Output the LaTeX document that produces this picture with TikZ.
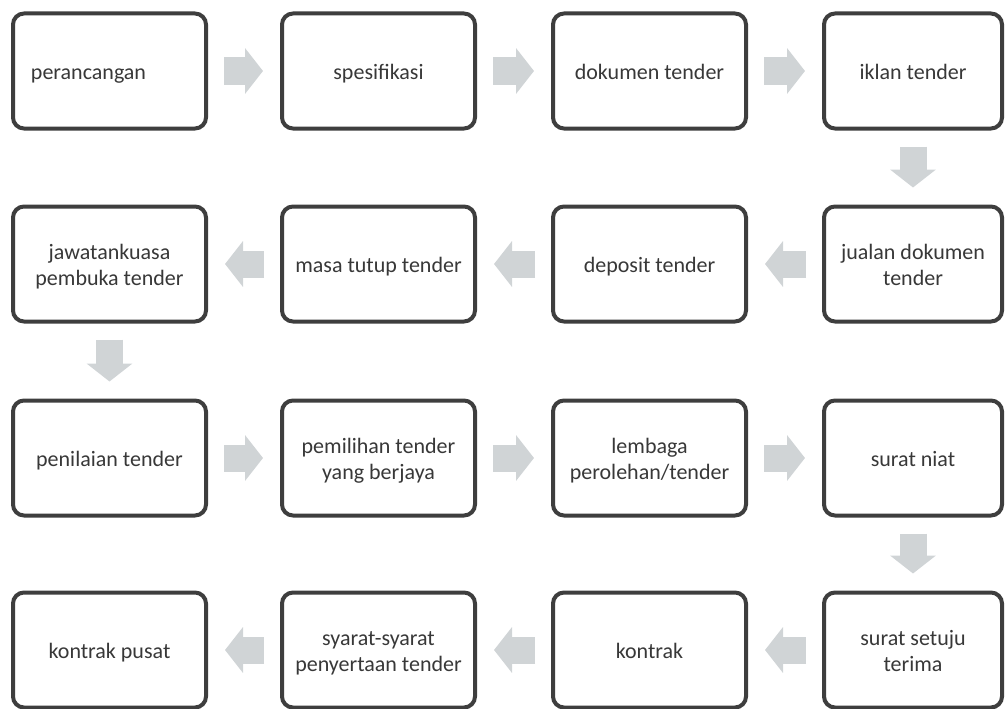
\documentclass[tikz,border=0pt]{standalone}
\usepackage{fontspec}
\setmainfont{Carlito}
\usepackage{tikz}
\usetikzlibrary{positioning,arrows.meta}
\definecolor{boxgray}{HTML}{3E3E3E}
\definecolor{textgray}{HTML}{383838}
\definecolor{arrowgray}{HTML}{D0D4D6}

\begin{document}
\begin{tikzpicture}[
  x=1pt,y=-1pt,
  every node/.style={inner sep=2pt},
  stage/.style={draw=boxgray,line width=4pt,rounded corners=11pt,fill=white,
    minimum width=193pt,minimum height=115pt,align=center,text=textgray,
    font=\fontsize{22}{26}\selectfont,text height=16pt,text depth=0pt},
  twostage/.style={stage,text height=42pt},
  laststage/.style={minimum width=178pt},
  flow/.style={draw=arrowgray,line width=27pt,shorten <=16pt,shorten >=17pt,
    -{Triangle[length=18pt,width=45pt]}}
]
\useasboundingbox (0,0) rectangle (1006,709);

% Row one
\node[stage]           (perancangan) at (109.5,71) {perancangan\hspace*{42pt}};
\node[stage]           (spesifikasi) at (378.5,71) {spesifikasi};
\node[stage]           (dokumen)     at (649.5,71) {dokumen tender};
\node[stage,laststage] (iklan)       at (913,71)   {iklan tender};

% Row two
\node[twostage]           (jawatan) at (109.5,264) {jawatankuasa\\pembuka tender};
\node[stage]              (tutup)   at (378.5,264) {masa tutup tender};
\node[stage]              (deposit) at (649.5,264) {deposit tender};
\node[twostage,laststage] (jualan)  at (913,264)   {jualan dokumen\\tender};

% Row three
\node[stage]           (penilaian) at (109.5,458) {penilaian tender};
\node[twostage]        (pemilihan) at (378.5,458) {pemilihan tender\\yang berjaya};
\node[twostage]        (lembaga)   at (649.5,458) {lembaga\\perolehan/tender};
\node[stage,laststage] (niat)      at (913,458)   {surat niat};

% Row four
\node[stage]              (pusat)   at (109.5,650) {kontrak pusat};
\node[twostage]           (syarat)  at (378.5,650) {syarat-syarat\\penyertaan tender};
\node[stage]              (kontrak) at (649.5,650) {kontrak};
\node[twostage,laststage] (setuju)  at (913,650)   {surat setuju\\terima};

% Flow arrows
\draw[flow] (perancangan) -- (spesifikasi);
\draw[flow] (spesifikasi) -- (dokumen);
\draw[flow] (dokumen) -- (iklan);
\draw[flow] (iklan) -- (jualan);
\draw[flow] (jualan) -- (deposit);
\draw[flow] (deposit) -- (tutup);
\draw[flow] (tutup) -- (jawatan);
\draw[flow] (jawatan) -- (penilaian);
\draw[flow] (penilaian) -- (pemilihan);
\draw[flow] (pemilihan) -- (lembaga);
\draw[flow] (lembaga) -- (niat);
\draw[flow] (niat) -- (setuju);
\draw[flow] (setuju) -- (kontrak);
\draw[flow] (kontrak) -- (syarat);
\draw[flow] (syarat) -- (pusat);

\end{tikzpicture}
\end{document}
